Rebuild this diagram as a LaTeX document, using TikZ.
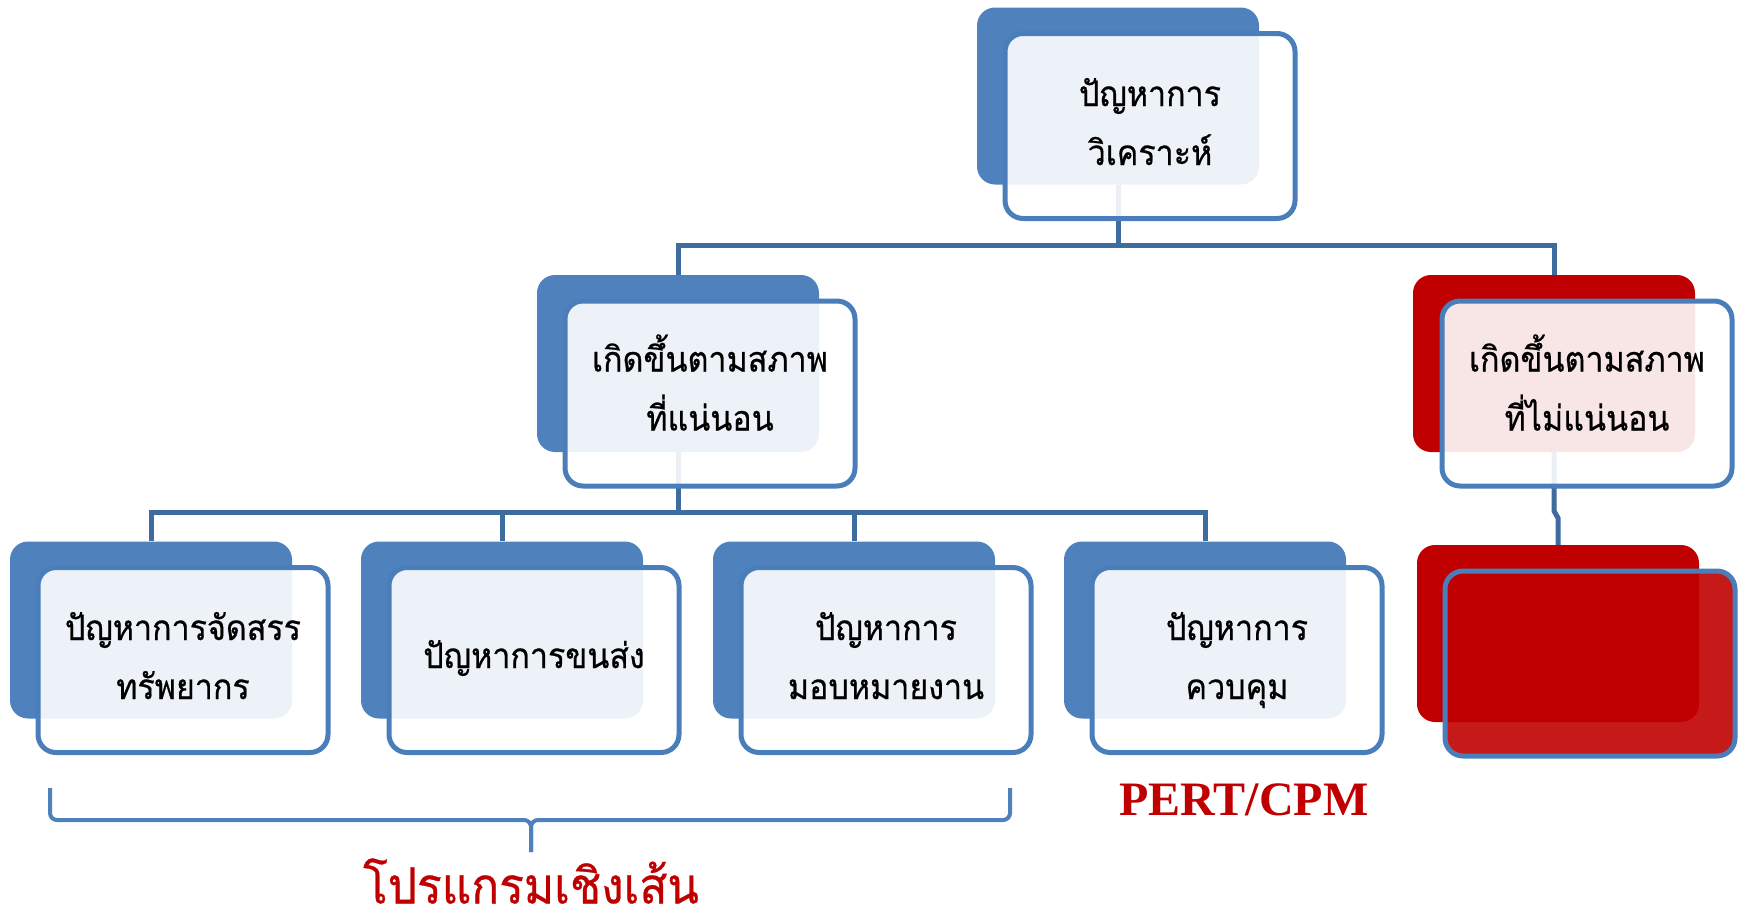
\documentclass[tikz,border=0pt]{standalone}
\usepackage{fontspec}
\setmainfont{Liberation Serif}
\newfontfamily\thaifont[Script=Thai,FakeStretch=0.92,FakeBold=0.6]{Loma}
\definecolor{bblue}{HTML}{4F81BD}
\definecolor{lblue}{HTML}{4A7EBB}
\definecolor{cblue}{HTML}{3F6C9E}
\definecolor{dred}{HTML}{C00000}
\tikzset{
  backbox/.style={rectangle, rounded corners=18pt, fill=bblue, draw=none, minimum width=282pt, minimum height=177pt, inner sep=0pt},
  redback/.style={backbox, fill=dred},
  frontbox/.style={rectangle, rounded corners=18pt, fill=white, fill opacity=0.9, draw=lblue, line width=5pt, minimum width=290pt, minimum height=185pt, inner sep=0pt},
  redfront/.style={frontbox, fill=dred},
  lbl/.style={anchor=base, inner sep=0pt, font=\thaifont\fontsize{35}{42}\selectfont},
  conn/.style={draw=cblue, line width=5pt},
  bracketline/.style={draw=bblue, line width=4pt},
}
\begin{document}
\begin{tikzpicture}[x=1pt,y=-1pt]
\useasboundingbox (0,0) rectangle (1742,906);
% back boxes
\node[backbox] (tb) at (1118,96) {};
\node[backbox] (l2b) at (678,363.5) {};
\node[redback] (r2b) at (1554,363.5) {};
\node[redback] (r3b) at (1558,633.5) {};
\node[backbox] (a3b) at (151,630) {};
\node[backbox] (b3b) at (502,630) {};
\node[backbox] (c3b) at (854,630) {};
\node[backbox] (d3b) at (1205,630) {};
% connectors
\coordinate (j1) at (1118,245);
\coordinate (j2) at (678,512);
\draw[conn] (tb.south) -- (j1);
\draw[conn] (j1) -| (l2b.north);
\draw[conn] (j1) -| (r2b.north);
\draw[conn] (l2b.south) -- (j2);
\draw[conn] (j2) -| (a3b.north);
\draw[conn] (j2) -| (b3b.north);
\draw[conn] (j2) -| (c3b.north);
\draw[conn] (j2) -| (d3b.north);
\coordinate (k1) at (1554,511);
\coordinate (k2) at (1558,518);
\draw[conn] (r2b.south) -- (k1) -- (k2) -- (r3b.north);
% front boxes
\node[frontbox] (tf) at (1150,126) {};
\node[frontbox] (l2f) at (710,393.5) {};
\node[frontbox] (r2f) at (1587,393.5) {};
\node[redfront] (r3f) at (1590,663.5) {};
\node[frontbox] (a3f) at (183,660) {};
\node[frontbox] (b3f) at (534,660) {};
\node[frontbox] (c3f) at (886,660) {};
\node[frontbox] (d3f) at (1237,660) {};
% texts
\node[lbl] (tf1) at ([yshift=20pt]tf.center) {ปัญหาการ};
\node[lbl] (tf2) at ([yshift=-39pt]tf.center) {วิเคราะห์};
\node[lbl] (l2f1) at ([yshift=22pt]l2f.center) {เกิดขึ้นตามสภาพ};
\node[lbl] (l2f2) at ([yshift=-37pt]l2f.center) {ที่แน่นอน};
\node[lbl] (r2f1) at ([yshift=22pt]r2f.center) {เกิดขึ้นตามสภาพ};
\node[lbl] (r2f2) at ([yshift=-37pt]r2f.center) {ที่ไม่แน่นอน};
\node[lbl] (a3f1) at ([yshift=20pt]a3f.center) {ปัญหาการจัดสรร};
\node[lbl] (a3f2) at ([yshift=-39pt]a3f.center) {ทรัพยากร};
\node[lbl] (b3f1) at ([yshift=-8pt]b3f.center) {ปัญหาการขนส่ง};
\node[lbl] (c3f1) at ([yshift=20pt]c3f.center) {ปัญหาการ};
\node[lbl] (c3f2) at ([yshift=-39pt]c3f.center) {มอบหมายงาน};
\node[lbl] (d3f1) at ([yshift=20pt]d3f.center) {ปัญหาการ};
\node[lbl] (d3f2) at ([yshift=-39pt]d3f.center) {ควบคุม};
% bracket
\coordinate (bl) at (50,788);
\coordinate (br) at (1010,788);
\coordinate (bt) at (531,852);
\draw[bracketline, rounded corners=7pt] (bl) -- (50,820) -- (531,820) -- (bt);
\draw[bracketline, rounded corners=7pt] (br) -- (1010,820) -- (531,820) -- (bt);
% labels
\node[text=dred, font=\thaifont\fontsize{50}{58}\selectfont] (lp) at (531,881) {โปรแกรมเชิงเส้น};
\node[text=dred, font=\bfseries\fontsize{48}{58}\selectfont] (pc) at (1244,800) {PERT/CPM};
\end{tikzpicture}
\end{document}
